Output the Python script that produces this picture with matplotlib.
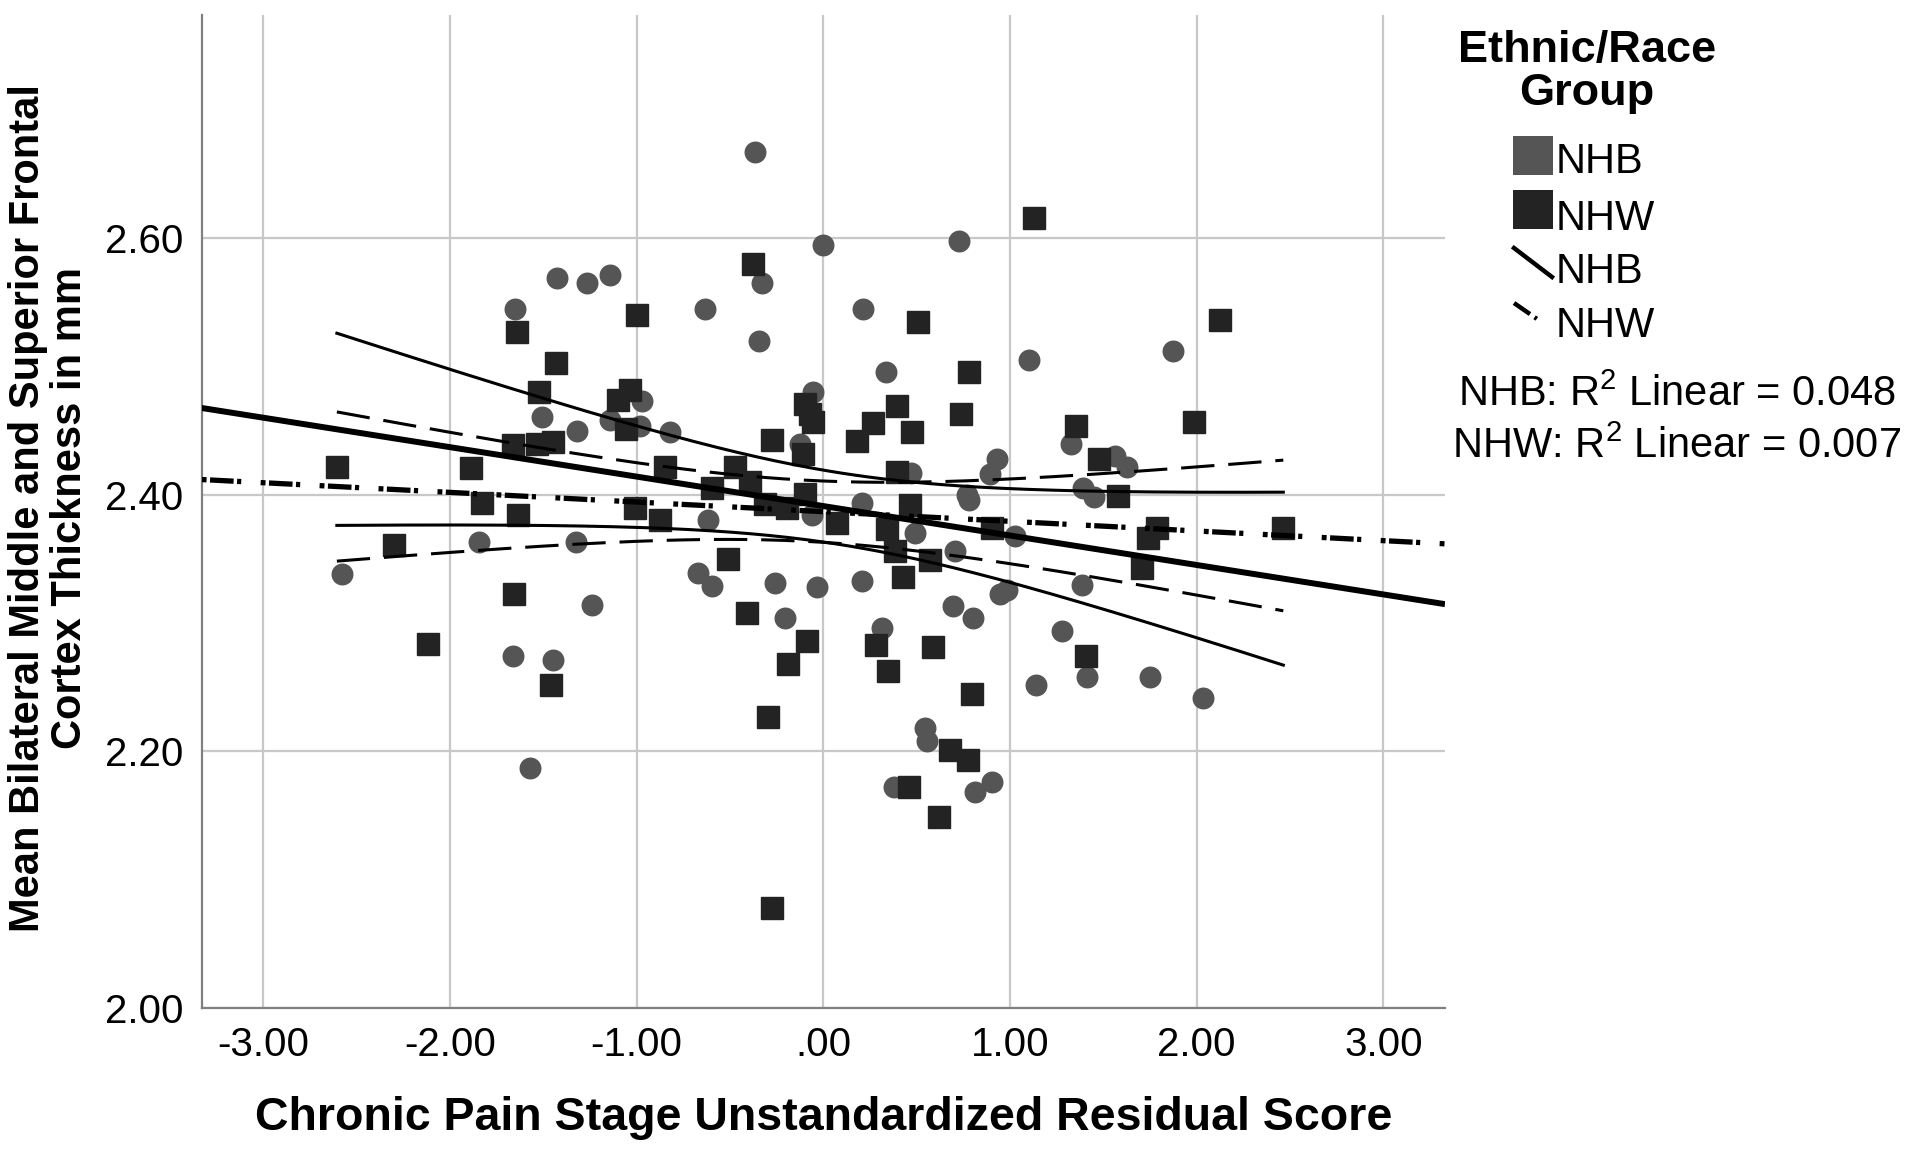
import numpy as np
import matplotlib
matplotlib.use("Agg")
import matplotlib.pyplot as plt
from matplotlib.lines import Line2D
from matplotlib.patches import Rectangle

plt.rcParams['font.family'] = ['Liberation Sans', 'DejaVu Sans']
plt.rcParams['mathtext.fontset'] = 'custom'
plt.rcParams['mathtext.rm'] = 'Liberation Sans'
plt.rcParams['lines.scale_dashes'] = False

# ---------------- data ----------------
nhb_x = [-2.58, -1.843, -1.325, -1.241, -1.664, -1.45, -1.571, -1.65, -1.428, -1.267,
         -1.142, -1.508, -1.321, -0.973, -1.142, -0.982, -0.821, -0.366, -0.33, -0.634,
         -0.343, -0.054, -0.125, -0.616, -0.06, -0.669, -0.598, -0.259, -0.205, -0.036,
         0.0, 0.728, 0.211, 0.336, 1.10, 1.871, 0.929, 0.893, 1.327, 1.562,
         1.625, 0.468, 1.389, 1.452, 0.768, 0.782, 0.206, 0.491, 1.027, 0.209,
         0.705, 0.982, 0.946, 1.384, 0.696, 0.803, 0.313, 1.28, 1.138, 1.414,
         1.75, 2.035, 0.545, 0.557, 0.379, 0.812, 0.902]
nhb_y = [2.338, 2.363, 2.363, 2.314, 2.274, 2.271, 2.187, 2.545, 2.569, 2.565,
         2.571, 2.461, 2.450, 2.473, 2.458, 2.454, 2.449, 2.667, 2.565, 2.545,
         2.520, 2.480, 2.440, 2.380, 2.384, 2.339, 2.329, 2.331, 2.304, 2.328,
         2.595, 2.598, 2.545, 2.496, 2.505, 2.512, 2.428, 2.416, 2.440, 2.430,
         2.422, 2.417, 2.405, 2.398, 2.400, 2.396, 2.394, 2.370, 2.368, 2.333,
         2.356, 2.326, 2.323, 2.330, 2.313, 2.304, 2.296, 2.294, 2.252, 2.258,
         2.258, 2.242, 2.218, 2.208, 2.172, 2.168, 2.176]

nhw_x = [-2.606, -2.30, -2.116, -1.887, -1.83, -1.642, -1.66, -1.637, -1.657, -1.46,
         -1.432, -1.521, -1.532, -1.45, -1.035, -1.098, -1.057, -1.0, -1.009, -0.848,
         -0.875, -0.375, -0.276, -0.10, -0.07, -0.055, -0.107, -0.473, -0.598, -0.393,
         -0.312, -0.196, -0.098, -0.509, -0.407, -0.086, -0.187, -0.295, -0.273, 1.13,
         0.506, 2.125, 0.782, 0.396, 0.268, 0.182, 0.473, 0.738, 1.352, 1.478,
         1.987, 0.396, 0.464, 1.577, 0.072, 0.34, 0.902, 1.786, 2.464, 1.741,
         1.705, 0.384, 0.571, 0.428, 0.281, 0.586, 0.345, 0.798, 1.407, 0.679,
         0.773, 0.461, 0.621]
nhw_y = [2.422, 2.361, 2.284, 2.421, 2.394, 2.527, 2.439, 2.384, 2.323, 2.252,
         2.503, 2.480, 2.440, 2.441, 2.482, 2.474, 2.451, 2.540, 2.390, 2.422,
         2.380, 2.580, 2.443, 2.471, 2.463, 2.457, 2.432, 2.422, 2.405, 2.410,
         2.393, 2.390, 2.401, 2.350, 2.308, 2.286, 2.268, 2.227, 2.078, 2.616,
         2.535, 2.536, 2.496, 2.469, 2.456, 2.442, 2.449, 2.463, 2.454, 2.428,
         2.457, 2.418, 2.392, 2.399, 2.378, 2.373, 2.374, 2.374, 2.374, 2.366,
         2.343, 2.356, 2.349, 2.336, 2.283, 2.281, 2.263, 2.245, 2.274, 2.201,
         2.193, 2.172, 2.149]

x_ticks = [-3.0, -2.0, -1.0, 0.0, 1.0, 2.0, 3.0]
x_tick_labels = ["-3.00", "-2.00", "-1.00", ".00", "1.00", "2.00", "3.00"]
y_ticks = [2.0, 2.2, 2.4, 2.6]
y_tick_labels = ["2.00", "2.20", "2.40", "2.60"]
groups = ["NHB", "NHW"]
r2_labels = ["0.048", "0.007"]
t_crit = {"NHB": 1.997, "NHW": 1.994}

# ---------------- figure ----------------
W, H = 1920, 1156
fig = plt.figure(figsize=(W / 100, H / 100), dpi=100)
ax = fig.add_axes([201.7 / W, 1 - 1008 / H, (1445 - 201.7) / W, (1008 - 15) / H])
XMIN, XMAX = -3.33, 3.33
ax.set_xlim(XMIN, XMAX)
ax.set_ylim(2.0, 2.774)

ax.set_xticks(x_ticks)
ax.set_xticklabels(x_tick_labels)
ax.set_yticks(y_ticks)
ax.set_yticklabels(y_tick_labels)
ax.tick_params(length=0, labelsize=29, pad=13, colors='black')
ax.grid(True, color='#c8c8c8', linewidth=1.6)
ax.set_axisbelow(True)
for s in ['top', 'right']:
    ax.spines[s].set_visible(False)
for s in ['left', 'bottom']:
    ax.spines[s].set_color('#808080')
    ax.spines[s].set_linewidth(1.6)

c_nhb = '#555555'
c_nhw = '#232323'
ax.plot(nhb_x, nhb_y, linestyle='none', marker='o', ms=14.8, color=c_nhb, mec=c_nhb, zorder=3)
ax.plot(nhw_x, nhw_y, linestyle='none', marker='s', ms=15.2, color=c_nhw, mec=c_nhw, zorder=3)

dashdot = (0, (3.5, 2.5, 17, 2.5, 3, 14))
dashed = (0, (24, 10))

all_x = np.array(nhb_x + nhw_x)
xmin_d, xmax_d = all_x.min(), all_x.max()


def fit(xs, ys, t):
    xs = np.asarray(xs)
    ys = np.asarray(ys)
    b, a = np.polyfit(xs, ys, 1)
    n = len(xs)
    resid = ys - (a + b * xs)
    s = np.sqrt(np.sum(resid ** 2) / (n - 2))
    sxx = np.sum((xs - xs.mean()) ** 2)
    xf = np.linspace(XMIN, XMAX, 200)
    xc = np.linspace(xmin_d, xmax_d, 200)
    yc = a + b * xc
    half = t * s * np.sqrt(1 / n + (xc - xs.mean()) ** 2 / sxx)
    return xf, a + b * xf, xc, yc - half, yc + half


xf, yf, xc, lo, hi = fit(nhb_x, nhb_y, t_crit["NHB"])
ax.plot(xf, yf, color='black', lw=4.3, zorder=4, solid_capstyle='butt')
ax.plot(xc, lo, color='black', lw=2.2, zorder=4)
ax.plot(xc, hi, color='black', lw=2.2, zorder=4)

xf, yf, xc, lo, hi = fit(nhw_x, nhw_y, t_crit["NHW"])
ax.plot(xf, yf, color='black', lw=3.8, ls=dashdot, zorder=4)
ax.plot(xc, lo, color='black', lw=2.2, ls=dashed, zorder=4)
ax.plot(xc, hi, color='black', lw=2.2, ls=dashed, zorder=4)

# axis labels
fig.text((201.7 + 1445) / 2 / W, 1 - 1118 / H, "Chronic Pain Stage Unstandardized Residual Score",
         ha='center', va='center', fontsize=33.5, fontweight='bold')
fig.text(49 / W, 1 - 508 / H, "Mean Bilateral Middle and Superior Frontal\nCortex Thickness in mm",
         ha='center', va='center', rotation=90, fontsize=30, fontweight='bold',
         linespacing=1.08, multialignment='center')

# legend (drawn manually in figure pixel space)
def fx(px):
    return px / W


def fy(py):
    return 1 - py / H


fig.text(fx(1587), fy(72), "Ethnic/Race\nGroup", ha='center', va='center', fontsize=32.5,
         fontweight='bold', linespacing=1.05)
fig.patches.append(Rectangle((fx(1513), fy(175)), 40 / W, 39 / H, transform=fig.transFigure,
                             facecolor=c_nhb, edgecolor='none'))
fig.patches.append(Rectangle((fx(1513), fy(229)), 40 / W, 39 / H, transform=fig.transFigure,
                             facecolor=c_nhw, edgecolor='none'))
fig.text(fx(1556), fy(162), groups[0], ha='left', va='center', fontsize=30)
fig.text(fx(1556), fy(219), groups[1], ha='left', va='center', fontsize=30)
fig.lines.append(Line2D([fx(1514), fx(1552)], [fy(248), fy(277)], transform=fig.transFigure,
                        color='black', lw=3.2))
fig.text(fx(1556), fy(272), groups[0], ha='left', va='center', fontsize=30)
fig.lines.append(Line2D([fx(1514), fx(1540)], [fy(303), fy(321)], transform=fig.transFigure,
                        color='black', lw=3.2, ls=(0, (14, 4, 2, 20))))
fig.text(fx(1556), fy(326), groups[1], ha='left', va='center', fontsize=30)
fig.text(fx(1677), fy(394.5), groups[0] + ": R$^\\mathrm{2}$ Linear = " + r2_labels[0],
         ha='center', va='center', fontsize=30)
fig.text(fx(1677), fy(447), groups[1] + ": R$^\\mathrm{2}$ Linear = " + r2_labels[1],
         ha='center', va='center', fontsize=30)

fig.savefig("out.png", dpi=100, facecolor='white')
